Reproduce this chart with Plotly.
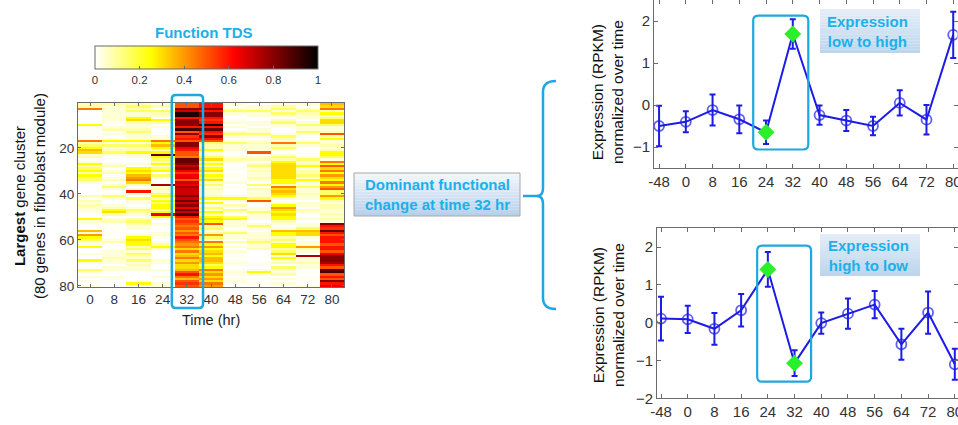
import plotly.graph_objects as go

W, H = 958, 425

# ---------------- Heatmap data (Function TDS, in percent) ----------------
time_hr = [0, 8, 16, 24, 32, 40, 48, 56, 64, 72, 80]
gene_rows = list(range(1, 81))

tds_t0 = [8,8,45,0,0,0,0,0,0,25, 2,1,1,1,1,1,45,8,15,25, 35,30,4,8,1,4,25,8,15,25,
          8,25,15,15,4,0,0,0,0,0, 8,0,8,4,8,4,4,2,0,0, 25,4,1,0,0,35,4,40,25,15,
          4,2,25,0,0,4,0,0,25,4, 0,0,15,4,0,4,0,2,0,4]
tds_t8 = [8,4,4,4,4,4,4,4,2,0, 4,8,0,4,0,4,25,4,15,4, 8,15,4,0,0,0,4,8,0,4,
          8,0,4,8,0,4,15,4,0,2, 15,4,0,0,4,8,25,30,8,0, 4,8,1,1,1,1,1,1,1,4,
          8,0,0,0,4,4,4,8,4,4, 0,4,4,0,0,4,2,0,0,0]
tds_t16 = [8,15,8,15,4,4,25,30,8,4, 4,8,15,4,4,4,25,4,15,8, 8,25,4,4,0,0,4,0,25,30,
           25,35,40,45,30,8,0,4,60,4, 0,15,4,4,0,4,15,8,4,0, 8,15,8,4,4,0,0,4,25,30,
           25,25,8,15,4,15,8,4,15,4, 8,4,4,0,0,0,0,2,25,0]
tds_t24 = [4,8,0,15,8,4,0,25,8,0, 4,0,0,0,4,4,45,25,35,25, 8,25,85,25,15,8,25,4,15,25,
           0,15,4,0,0,75,4,8,4,15, 25,8,25,15,25,25,8,25,65,25, 4,0,4,2,0,0,4,4,2,0,
           4,8,25,8,0,0,0,0,4,4, 0,0,4,0,0,4,0,0,4,4]
tds_t32 = [50,50,80,70,95,95,60,80,80,80, 60,90,50,80,55,60,50,80,80,65, 60,50,50,45,85,85,80,70,80,65,
           55,65,65,50,70,65,75,70,70,70, 80,70,85,70,80,65,85,70,90,60, 50,55,50,45,50,40,50,45,60,50,
           45,40,45,30,45,30,35,45,30,40, 30,30,35,50,60,45,35,50,55,50]
tds_t40 = [60,60,80,60,80,80,60,55,60,95, 60,85,60,55,80,60,50,15,8,8, 25,4,4,15,30,8,25,8,25,30,
           8,25,15,30,4,15,4,8,4,4, 8,25,4,25,4,15,4,25,8,25, 30,25,50,8,15,4,8,40,15,4,
           45,25,40,25,30,35,25,35,35,30, 15,25,45,30,40,30,40,30,45,40]
tds_t48 = [4,0,4,15,4,0,0,2,4,0, 4,0,8,15,4,0,4,15,4,4, 4,0,0,4,8,4,0,0,2,0,
           0,2,0,0,4,0,2,0,0,0, 4,25,4,0,8,0,15,4,0,15, 25,4,4,4,0,4,15,4,4,0,
           8,0,4,0,4,0,2,0,2,4, 2,0,2,4,2,0,2,4,2,0]
tds_t56 = [0,4,4,15,4,4,0,0,4,4, 0,4,4,15,4,0,4,8,4,4, 4,50,0,4,8,0,8,15,4,8,
           4,4,8,4,0,15,0,8,4,4, 4,15,50,4,0,4,4,15,4,4, 4,0,4,15,4,0,4,4,4,8,
           15,4,4,8,0,0,0,0,0,2, 2,0,4,25,4,0,2,0,2,0]
tds_t64 = [4,8,15,4,15,4,0,8,15,4, 4,0,0,4,15,8,4,45,8,15, 4,0,4,15,8,25,30,30,30,30,
           30,30,30,25,25,8,45,30,35,30, 25,4,0,4,25,40,30,25,30,25, 25,8,4,0,4,35,25,25,8,15,
           4,25,25,8,15,30,4,25,4,8, 0,15,4,4,8,0,4,0,4,0]
tds_t72 = [4,0,4,15,8,4,4,0,4,15, 4,4,15,4,0,0,4,15,4,0, 0,0,0,4,15,4,8,25,4,8,
           8,15,4,25,4,4,15,4,4,8, 4,4,0,4,4,0,8,4,0,0, 4,0,4,4,15,35,30,30,4,0,
           4,4,40,8,4,0,75,4,4,8, 4,4,0,2,0,2,0,2,0,4]
tds_t80 = [35,30,45,8,25,4,15,30,30,15, 4,4,8,50,8,25,4,4,8,4, 8,25,25,15,4,45,25,50,30,45,
           25,40,30,25,45,25,40,50,15,15, 40,25,8,4,8,8,4,4,8,4, 8,4,80,60,55,85,60,50,60,60,
           60,50,60,60,50,65,80,80,80,75, 60,50,85,90,50,60,50,80,60,65]
tds_columns = [tds_t0, tds_t8, tds_t16, tds_t24, tds_t32, tds_t40,
               tds_t48, tds_t56, tds_t64, tds_t72, tds_t80]
colorbar_ticks = [0, 0.2, 0.4, 0.6, 0.8, 1]

# ---------------- Expression profiles ----------------
expr_times = [-48, 0, 8, 16, 24, 32, 40, 48, 56, 64, 72, 80]
low_high_mean = [-0.50, -0.40, -0.12, -0.34, -0.65, 1.69, -0.24, -0.37, -0.50, 0.05, -0.35, 1.67]
low_high_err = [0.48, 0.25, 0.37, 0.33, 0.28, 0.35, 0.23, 0.25, 0.22, 0.30, 0.35, 0.55]
high_low_mean = [0.11, 0.09, -0.16, 0.33, 1.41, -1.07, -0.01, 0.24, 0.48, -0.57, 0.27, -1.10]
high_low_err = [0.58, 0.36, 0.42, 0.43, 0.46, 0.34, 0.28, 0.40, 0.36, 0.41, 0.56, 0.41]
highlight_times = [24, 32]

# ---------------- styles ----------------
FONT = "Liberation Sans, Arial, sans-serif"
CYAN = "#1ea7e1"
TXT_CYAN = "#1cb0ea"
LINE_BLUE = "#1c1ce6"
GREEN = "#2bef2b"
AXC = "#6b6b6b"
TICKC = "#333333"


def px(x):
    return x / W


def py(y):
    return 1 - y / H


def rrect(x0, x1, y0, y1, rx, ry):
    return (f"M {x0+rx},{y0} L {x1-rx},{y0} Q {x1},{y0} {x1},{y0+ry} "
            f"L {x1},{y1-ry} Q {x1},{y1} {x1-rx},{y1} L {x0+rx},{y1} "
            f"Q {x0},{y1} {x0},{y1-ry} L {x0},{y0+ry} Q {x0},{y0} {x0+rx},{y0} Z")


def hexmix(c1, c2, t):
    a = [int(c1[i:i+2], 16) for i in (1, 3, 5)]
    b = [int(c2[i:i+2], 16) for i in (1, 3, 5)]
    return "rgb(%d,%d,%d)" % tuple(round(a[k] + (b[k] - a[k]) * t) for k in range(3))


fig = go.Figure()

# heatmap
z = [[tds_columns[c][r] / 100 for c in range(len(time_hr))] for r in range(len(gene_rows))]
fig.add_trace(go.Heatmap(
    z=z, x=list(range(len(time_hr))), y=gene_rows,
    zmin=0, zmax=1,
    colorscale=[[0, "#ffffff"], [0.25, "#ffff00"], [0.625, "#ff0000"], [1, "#000000"]],
    xaxis="x", yaxis="y", hoverinfo="skip",
    colorbar=dict(orientation="h", x=px(206.5), xanchor="center", y=py(46), yanchor="top",
                  len=223, lenmode="pixels", thickness=23, thicknessmode="pixels",
                  xpad=0, ypad=0, outlinecolor=AXC, outlinewidth=1,
                  tickvals=colorbar_ticks, ticktext=[f"{v:g}" for v in colorbar_ticks],
                  ticks="inside", ticklen=3, tickcolor=AXC,
                  tickfont=dict(family=FONT, size=11.5, color=TICKC)),
))


def add_profile(mean, err, xa, ya):
    idx = list(range(len(expr_times)))
    sizes = [0 if t in highlight_times else 10 for t in expr_times]
    fig.add_trace(go.Scatter(
        x=idx, y=mean, mode="lines+markers", xaxis=xa, yaxis=ya,
        line=dict(color=LINE_BLUE, width=2),
        marker=dict(symbol="circle-open", size=sizes, color=LINE_BLUE, line=dict(width=1.8, color=LINE_BLUE)),
        error_y=dict(type="data", array=err, visible=True, color=LINE_BLUE, thickness=2, width=3),
        showlegend=False, hoverinfo="skip"))
    hx = [i for i, t in enumerate(expr_times) if t in highlight_times]
    fig.add_trace(go.Scatter(
        x=hx, y=[mean[i] for i in hx], mode="markers", xaxis=xa, yaxis=ya,
        marker=dict(symbol="diamond", size=13, color=GREEN, line=dict(width=0)),
        showlegend=False, hoverinfo="skip"))


add_profile(low_high_mean, low_high_err, "x2", "y2")
add_profile(high_low_mean, high_low_err, "x3", "y3")

axis_common = dict(showline=True, linecolor=AXC, linewidth=1, mirror="ticks", ticks="inside",
                   tickcolor=AXC, showgrid=False, zeroline=False, ticklabeloverflow="allow",
                   tickfont=dict(family=FONT, size=15, color=TICKC))

expr_ticktext = [str(t) for t in expr_times]

fig.update_layout(
    width=W, height=H, autosize=False,
    margin=dict(l=0, r=0, t=0, b=0, pad=0, autoexpand=False),
    paper_bgcolor="white", plot_bgcolor="white",
    font=dict(family=FONT),
    xaxis=dict(axis_common, domain=[px(78), px(344)], range=[-0.5, 10.5], anchor="y",
               tickvals=list(range(len(time_hr))), ticktext=[str(t) for t in time_hr],
               ticklen=3, tickfont=dict(family=FONT, size=13.5, color=TICKC)),
    yaxis=dict(axis_common, domain=[py(287), py(103)], range=[80.5, 0.5], anchor="x",
               tickvals=[20, 40, 60, 80], ticklen=3,
               tickfont=dict(family=FONT, size=13.5, color=TICKC)),
    xaxis2=dict(axis_common, domain=[px(654), px(957.5)], range=[-0.19, 11.16], anchor="y2",
                tickvals=list(range(len(expr_times))), ticktext=expr_ticktext, ticklen=4),
    yaxis2=dict(axis_common, domain=[py(168), 1.0], range=[-1.5, 2.5], anchor="x2",
                tickvals=[-1, 0, 1, 2], ticklen=4),
    xaxis3=dict(axis_common, domain=[px(657), 1.0], range=[-0.15, 11.12], anchor="y3",
                tickvals=list(range(len(expr_times))), ticktext=expr_ticktext, ticklen=4),
    yaxis3=dict(axis_common, domain=[py(398.3), py(228.3)], range=[-2, 2.5], anchor="x3",
                tickvals=[-2, -1, 0, 1, 2], ticklen=4),
)

shapes = []

# heatmap highlight box around 32 hr column
shapes.append(dict(type="path", xref="x", yref="paper",
                   path=rrect(3.38, 4.67, py(308), py(95), 4 / 24.2, 4 / H),
                   line=dict(color=CYAN, width=2.5)))
# line plot highlight boxes
shapes.append(dict(type="path", xref="x2", yref="y2",
                   path=rrect(3.52, 5.58, -1.06, 2.13, 5 / 26.7, 5 / 42.3),
                   line=dict(color=CYAN, width=2.2)))
shapes.append(dict(type="path", xref="x3", yref="y3",
                   path=rrect(3.6, 5.62, -1.56, 2.04, 5 / 26.7, 5 / 37.7),
                   line=dict(color=CYAN, width=2.2)))


def gradient_box(x0, y0, x1, y1, top, bottom, border=None, n=14):
    for k in range(n):
        ya = y0 + (y1 - y0) * k / n
        yb = y0 + (y1 - y0) * (k + 1) / n
        shapes.append(dict(type="rect", xref="paper", yref="paper", layer="above",
                           x0=px(x0), x1=px(x1), y0=py(yb), y1=py(ya),
                           fillcolor=hexmix(top, bottom, (k + 0.5) / n), line=dict(width=0)))
    if border:
        shapes.append(dict(type="rect", xref="paper", yref="paper",
                           x0=px(x0), x1=px(x1), y0=py(y1), y1=py(y0),
                           line=dict(color=border, width=1)))


gradient_box(354, 173, 520, 216, "#f3f7fb", "#b5d0ea", border="#a8a8a8")
gradient_box(820, 9, 920, 53, "#e4eef8", "#bcd5ed")
gradient_box(820, 234, 920, 276, "#e4eef8", "#bcd5ed")

# connector line and curly brace
shapes.append(dict(type="line", xref="paper", yref="paper",
                   x0=px(523), x1=px(538), y0=py(196), y1=py(196),
                   line=dict(color=CYAN, width=2.5)))
brace = (f"M {px(556)},{py(81)} Q {px(543)},{py(81)} {px(543)},{py(92)} "
         f"L {px(543)},{py(188)} Q {px(543)},{py(196)} {px(537)},{py(196)} "
         f"Q {px(543)},{py(196)} {px(543)},{py(204)} "
         f"L {px(543)},{py(298)} Q {px(543)},{py(309)} {px(556)},{py(309)}")
shapes.append(dict(type="path", xref="paper", yref="paper", path=brace,
                   line=dict(color=CYAN, width=2.5)))

fig.update_layout(shapes=shapes)

ann = []


def add_text(text, x, y, size, color, bold=False, angle=0):
    ann.append(dict(text=f"<b>{text}</b>" if bold else text, x=px(x), y=py(y),
                    xref="paper", yref="paper", showarrow=False, textangle=angle,
                    xanchor="center", yanchor="middle",
                    font=dict(family=FONT, size=size, color=color)))


add_text("Function TDS", 204, 32, 15, TXT_CYAN, bold=True)
add_text("Time (hr)", 211, 320, 14.5, "#222222")
add_text("<b>Largest</b> gene cluster<br>(80 genes in fibroblast module)", 29, 196, 15, "#111111", angle=-90)
add_text("Expression (RPKM)<br>normalized over time", 608, 92, 15.5, "#111111", angle=-90)
add_text("Expression (RPKM)<br>normalized over time", 608, 315, 15.5, "#111111", angle=-90)
add_text("Dominant functional<br>change at time 32 hr", 437, 195, 15, TXT_CYAN, bold=True)
add_text("Expression<br>low to high", 867, 31, 15, TXT_CYAN, bold=True)
add_text("Expression<br>high to low", 868, 255, 15, TXT_CYAN, bold=True)

fig.update_layout(annotations=ann)

fig.write_html("out.html")
